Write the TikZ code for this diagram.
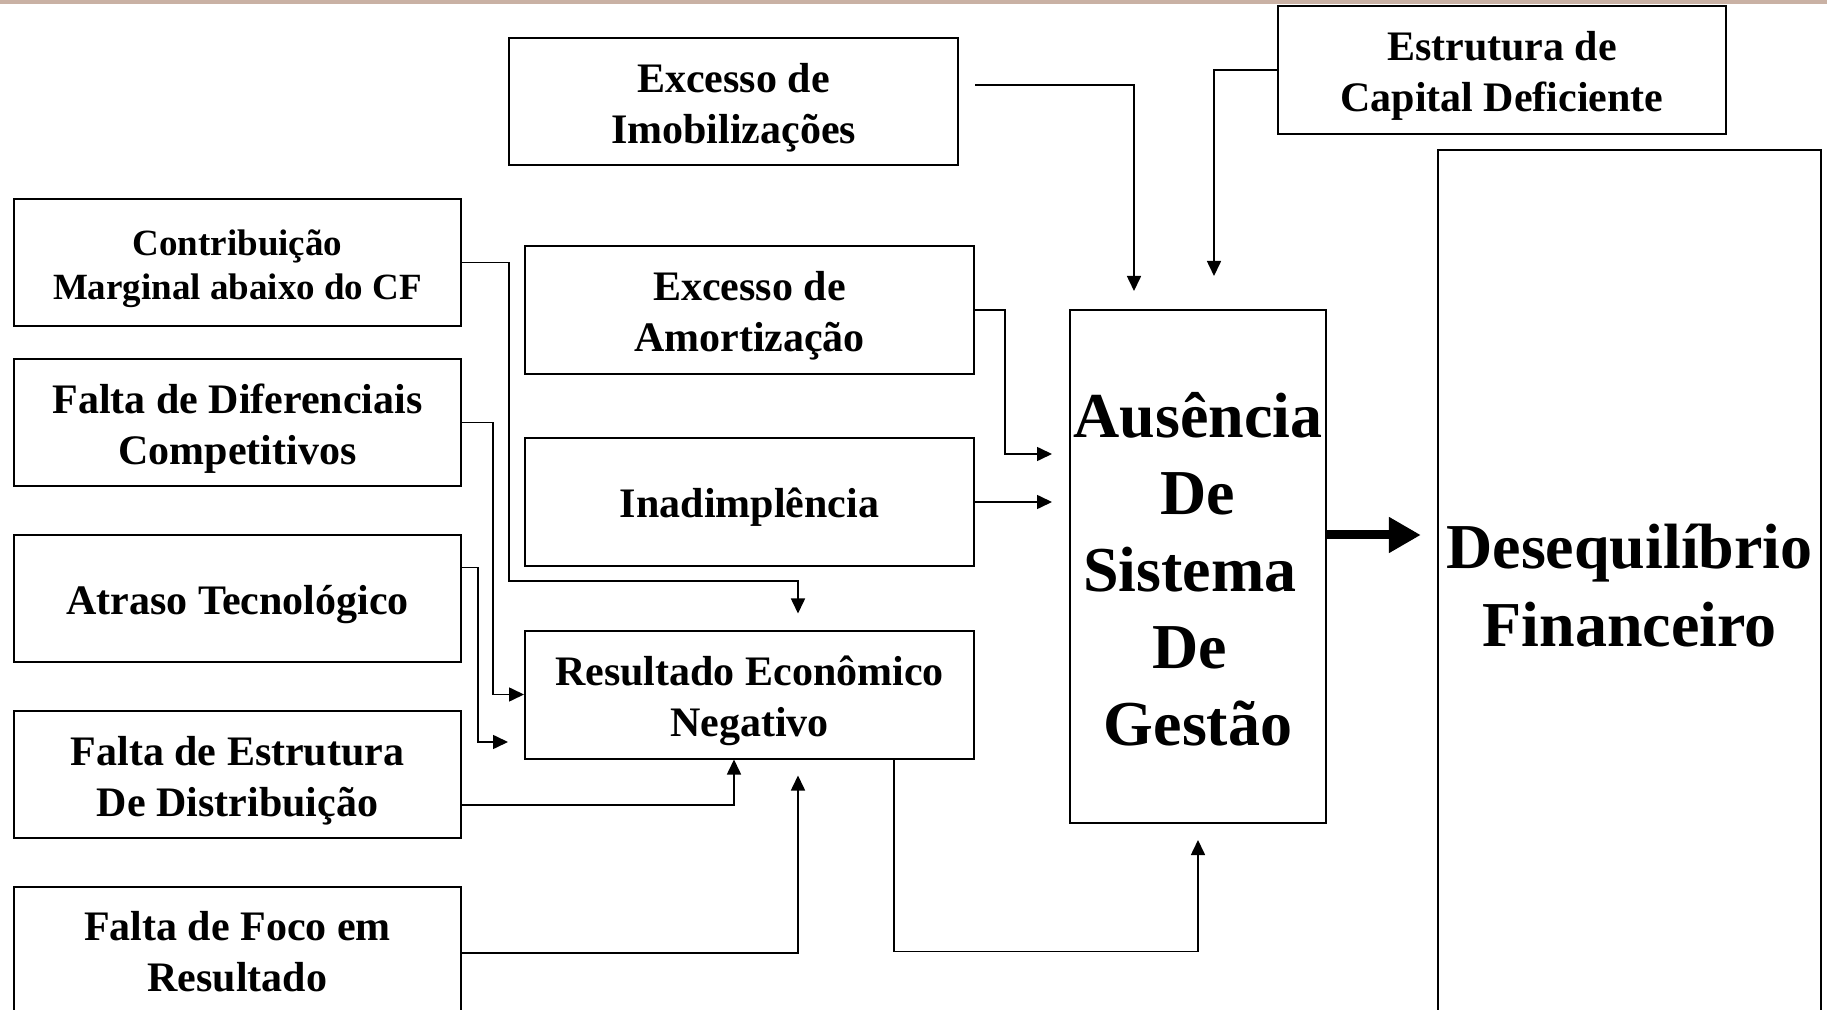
\documentclass[tikz,border=0pt]{standalone}
\usepackage{fontspec}
\setmainfont{Liberation Serif}
\usepackage{xcolor}
\usetikzlibrary{arrows.meta, calc}

\definecolor{faixa}{RGB}{201,177,164}

\tikzset{
	caixa/.style={draw, line width=1pt, rectangle, align=center, inner sep=0pt,
		font=\bfseries\fontsize{21}{25.5}\selectfont,
		execute at begin node={\rule{0pt}{20.5pt}},
		execute at end node={\rule[-4.6pt]{0pt}{4.6pt}}},
	altura/.style={execute at begin node={\rule{0pt}{#1}}},
	seta/.style={line width=0.8pt, -{Triangle[length=7.5pt, width=7pt]}},
	setagrossa/.style={line width=4.5pt, -{Triangle[length=16pt, width=17pt]}},
}

\begin{document}
\begin{tikzpicture}[x=0.5pt, y=-0.5pt]
	\useasboundingbox (0,0) rectangle (1827,1010);
	\clip (0,0) rectangle (1827,1010);
	\fill[faixa] (0,0) rectangle (1827,4);

	% coluna da esquerda
	\node[caixa, minimum width=223.5pt, minimum height=63.5pt, altura=41.8pt,
		font=\bfseries\fontsize{18.5}{22}\selectfont] (contr) at (237.5,262.5) {Contribuição\\Marginal abaixo do CF};
	\node[caixa, minimum width=223.5pt, minimum height=63.5pt, altura=46.5pt] (difer) at (237.5,422.5) {Falta de Diferenciais\\Competitivos};
	\node[caixa, minimum width=223.5pt, minimum height=63.5pt] (atraso) at (237.5,598.5) {Atraso Tecnológico};
	\node[caixa, minimum width=223.5pt, minimum height=63.5pt, altura=46.5pt] (distr) at (237.5,774.5) {Falta de Estrutura\\De Distribuição};
	\node[caixa, minimum width=223.5pt, minimum height=66pt, altura=43.5pt] (foco) at (237.5,953) {Falta de Foco em\\Resultado};

	% coluna do meio
	\node[caixa, minimum width=224.5pt, minimum height=63.5pt, altura=46.5pt] (imob) at (733.5,101.5) {Excesso de\\Imobilizações};
	\node[caixa, minimum width=224.5pt, minimum height=64pt, altura=46pt] (amort) at (749.5,310) {Excesso de\\Amortização};
	\node[caixa, minimum width=224.5pt, minimum height=64pt] (inad) at (749.5,502) {Inadimplência};
	\node[caixa, minimum width=224.5pt, minimum height=64pt, altura=46.5pt] (result) at (749.5,694.5) {Resultado Econômico\\Negativo};

	% direita
	\node[caixa, minimum width=224pt, minimum height=64pt, altura=46pt] (estr) at (1502,70) {Estrutura de\\Capital Deficiente};
	\node[caixa, minimum width=128pt, minimum height=256.5pt, altura=183.5pt,
		font=\bfseries\fontsize{32}{38.5}\selectfont] (aus) at (1198,566.5) {Ausência\\De\\Sistema\rule{8pt}{0pt}\\De\rule{8pt}{0pt}\\Gestão};
	\node[caixa, line width=1.2pt, minimum width=191.5pt, minimum height=437pt, altura=64.5pt,
		font=\bfseries\fontsize{32}{39}\selectfont] (deseq) at (1629.5,587) {Desequilíbrio\\Financeiro};

	% ligacoes
	\draw[seta, shorten <=8pt, shorten >=9pt] ([yshift=8.25pt]imob.east) -| ([xshift=-32pt]aus.north);
	\draw[seta, shorten >=16.5pt] (estr.west) -| ([xshift=8pt]aus.north);
	\draw[seta, shorten >=8.5pt] (amort.east) -- ++(15pt,0pt) |- ([yshift=56.25pt]aus.west);
	\draw[seta, shorten >=8.5pt] (inad.east) -- (inad.east -| aus.west);
	\draw[seta, shorten >=8pt] (contr.east) -| (509,581) -| ([xshift=24.25pt]result.north);
	\draw[seta] (difer.east) -| (493,694.5) -- (result.west);
	\draw[seta, shorten >=8pt] ([yshift=15.5pt]atraso.east) -| (478,742) -- ([yshift=-23.75pt]result.west);
	\draw[seta] ([yshift=-15.25pt]distr.east) -| ([xshift=-7.75pt]result.south);
	\draw[seta, shorten >=8pt] (foco.east) -| ([xshift=24.25pt]result.south);
	\draw[seta, shorten >=8pt] ([xshift=72.25pt]result.south) -- ++(0pt,-96pt) -| (aus.south);
	\draw[setagrossa, shorten >=8pt] ([yshift=15.75pt]aus.east) -- ([yshift=26pt]deseq.west);

\end{tikzpicture}
\end{document}
